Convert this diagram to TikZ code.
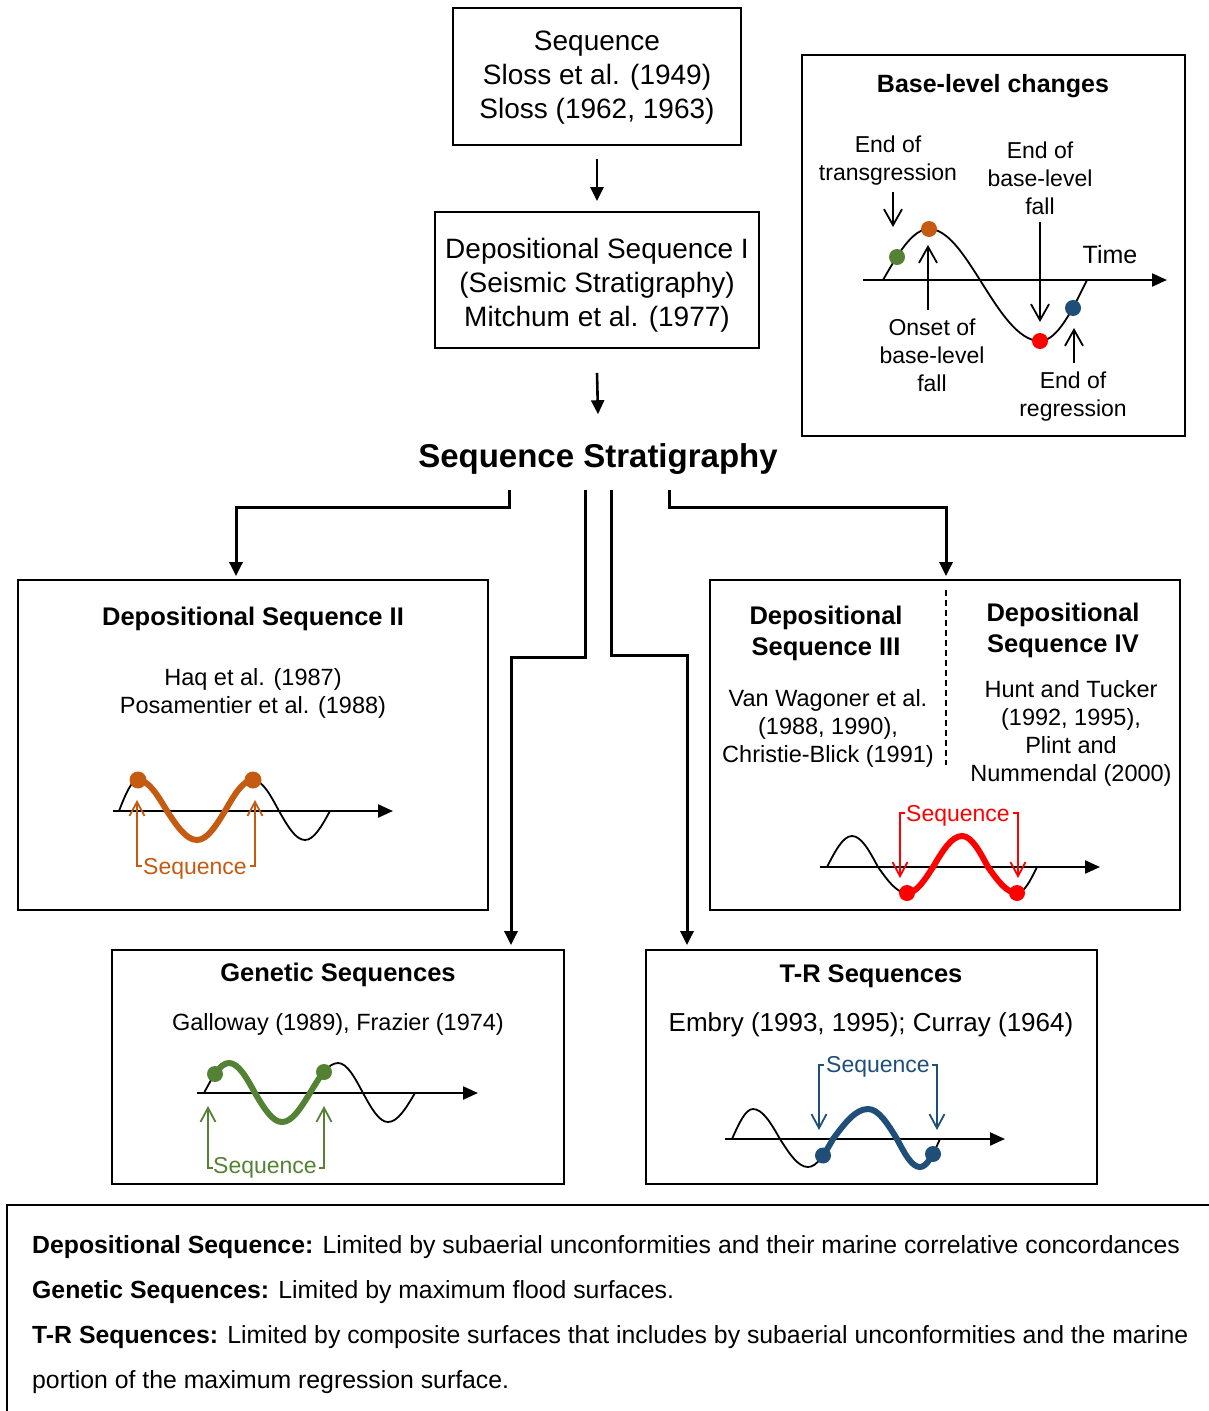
\documentclass[tikz,border=0pt]{standalone}
\usepackage{fontspec}
\setmainfont{Liberation Sans}
\usetikzlibrary{arrows.meta}
\definecolor{seqorange}{HTML}{C55A11}
\definecolor{seqgreen}{HTML}{548235}
\definecolor{seqred}{HTML}{FF0000}
\definecolor{seqblue}{HTML}{1F4E79}
\tikzset{
  box/.style={draw, line width=1.8pt, inner sep=0pt},
  txt/.style={inner sep=0pt, align=center, anchor=north},
  big/.style={txt, font=\fontsize{28}{34.3}\selectfont},
  head/.style={txt, font=\bfseries\fontsize{25.5}{31}\selectfont},
  cite/.style={txt, font=\fontsize{23.5}{28}\selectfont},
  lbl/.style={txt, font=\fontsize{23}{28}\selectfont},
  flow/.style={line width=2.6pt, -{Triangle[width=13pt,length=14pt]}},
  conn/.style={line width=3pt, -{Triangle[width=13pt,length=14pt]}},
  axisline/.style={line width=2.2pt, -{Triangle[width=13pt,length=15pt]}},
  wave/.style={line width=1.8pt},
  seqwave/.style={line width=6pt},
  seqarrow/.style={line width=1.8pt, -{Straight Barb[width=15pt,length=14pt]}},
  pointer/.style={line width=1.8pt, -{Straight Barb[width=18pt,length=16pt]}},
}
\begin{document}
\begin{tikzpicture}[x=1pt,y=-1pt]
\useasboundingbox (0,0) rectangle (1209,1411);

% ---------- upper chain ----------
\node[box, minimum width=288pt, minimum height=137pt] (src) at (597,76.5) {};
\node[big] (srctxt) at (597,30.6) {Sequence\\Sloss et al. (1949)\\Sloss (1962, 1963)};

\node[box, minimum width=324pt, minimum height=136pt] (ds1) at (597,280) {};
\node[big] (ds1txt) at (597,237.6) {Depositional Sequence I\\(Seismic Stratigraphy)\\Mitchum et al. (1977)};

\node[txt, font=\bfseries\fontsize{33}{38}\selectfont] (title) at (598,443.2) {Sequence Stratigraphy};

\draw[flow] ([yshift=-13pt]src.south) -- ([yshift=10pt]ds1.north);
\draw[flow] ([yshift=-24pt]ds1.south) -- ([yshift=29pt]title.north);

% ---------- base-level box ----------
\node[box, minimum width=383pt, minimum height=381pt] (bl) at (993.5,245.5) {};
\node[txt, font=\bfseries\fontsize{25}{30}\selectfont] (bltitle) at (993,73.8) {Base-level changes};
\draw[axisline] (863,280) -- (1167,280);
\draw[wave] (883,280) sin (929,229) cos (980,280) sin (1040,341) cos (1087,280);
\fill[seqgreen] (897,257) circle (8pt);
\fill[seqorange] (929,229) circle (8pt);
\fill[seqred] (1040,341) circle (8pt);
\fill[seqblue] (1073,308) circle (8pt);
\node[lbl] (lblA) at (888,135.5) {End of\\transgression};
\node[lbl] (lblB) at (1040,141.5) {End of\\base-level\\fall};
\node[lbl] (lblC) at (932,318.5) {Onset of\\base-level\\fall};
\node[lbl] (lblD) at (1073,371.5) {End of\\regression};
\node[txt, font=\fontsize{25}{30}\selectfont] (time) at (1110,244.8) {Time};
\draw[pointer] (893,192) -- (893,227);
\draw[pointer] (928,310) -- (928,245);
\draw[pointer] (1040,222) -- (1040,322);
\draw[pointer] (1074,363) -- (1074,328);

% ---------- branch boxes ----------
\node[box, minimum width=470pt, minimum height=330pt] (ds2) at (253,745) {};
\node[box, minimum width=470pt, minimum height=330pt] (ds34) at (945,745) {};
\node[box, minimum width=452pt, minimum height=234pt] (gen) at (338,1067) {};
\node[box, minimum width=451pt, minimum height=234pt] (tr) at (871.5,1067) {};

% connectors from the title
\coordinate (sL) at (509,490);
\coordinate (sIL) at (585,490);
\coordinate (sIR) at (611,490);
\coordinate (sR) at (669,490);
\draw[conn, shorten >=3pt] (sL) -- (509,507) -- (236,507) -- (236,0 |- ds2.north);
\draw[conn, shorten >=4pt] (sIL) -- (585,657) -- (511,657) -- (511,0 |- gen.north);
\draw[conn, shorten >=4pt] (sIR) -- (611,655) -- (687,655) -- (687,0 |- tr.north);
\draw[conn, shorten >=3pt] (sR) -- (669,507) -- (946,507) -- (946,0 |- ds34.north);

% ---------- Depositional Sequence II ----------
\node[head] (ds2title) at (253,606.6) {Depositional Sequence II};
\node[cite] (ds2cite) at (253,668.3) {Haq et al. (1987)\\Posamentier et al. (1988)};
\draw[axisline] (113,811) -- (393,811);
\draw[wave] (119,811) sin (138,780) cos (167,811) sin (197,840) cos (225,811)
  sin (253,780) cos (279,811) sin (305,840) cos (330,811);
\draw[seqwave, seqorange] (138,780) cos (167,811) sin (197,840) cos (225,811) sin (253,780);
\fill[seqorange] (138,780) circle (8.5pt) (253,780) circle (8.5pt);
\draw[seqarrow, seqorange] (142,866) -- (137,866) -- (137,800);
\draw[seqarrow, seqorange] (250,866) -- (255,866) -- (255,800);
\node[lbl, seqorange] (ds2seq) at (195,858.5) {Sequence};

% ---------- Depositional Sequence III / IV ----------
\draw[line width=1.5pt, dash pattern=on 6pt off 4pt] (946,590) -- (946,765);
\node[head] (ds3title) at (826,605.6) {Depositional\\Sequence III};
\node[cite] (ds3cite) at (828,689.3) {Van Wagoner et al.\\(1988, 1990),\\Christie-Blick (1991)};
\node[head] (ds4title) at (1063,602.6) {Depositional\\Sequence IV};
\node[cite] (ds4cite) at (1071,680.3) {Hunt and Tucker\\(1992, 1995),\\Plint and\\Nummendal (2000)};
\draw[axisline] (820,867) -- (1100,867);
\draw[wave] (827,867) sin (852,836) cos (878,867) sin (907,893) cos (933,867)
  sin (962,836) cos (988,867) sin (1017,893) cos (1037,867);
\draw[seqwave, seqred] (907,893) cos (933,867) sin (962,836) cos (988,867) sin (1017,893);
\fill[seqred] (907,893) circle (8pt) (1017,893) circle (8pt);
\draw[seqarrow, seqred] (905,813) -- (900,813) -- (900,878);
\draw[seqarrow, seqred] (1013,813) -- (1018,813) -- (1018,878);
\node[lbl, seqred] (ds3seq) at (958,805.5) {Sequence};

% ---------- Genetic Sequences ----------
\node[head] (gentitle) at (338,962.6) {Genetic Sequences};
\node[cite] (gencite) at (338,1013.3) {Galloway (1989), Frazier (1974)};
\draw[axisline] (197,1093) -- (478,1093);
\draw[wave] (204,1093) sin (229,1063) cos (255,1093) sin (282,1122) cos (310,1093)
  sin (338,1063) cos (363,1093) sin (388,1122) cos (415,1093);
\begin{scope}
  \clip (215,1000) rectangle (324,1200);
  \draw[seqwave, seqgreen] (204,1093) sin (229,1063) cos (255,1093) sin (282,1122) cos (310,1093)
    sin (338,1063);
\end{scope}
\fill[seqgreen] (215,1074) circle (8pt) (324,1072) circle (8pt);
\draw[seqarrow, seqgreen] (213,1168) -- (208,1168) -- (208,1106);
\draw[seqarrow, seqgreen] (319,1168) -- (324,1168) -- (324,1106);
\node[lbl, seqgreen] (genseq) at (265,1157.5) {Sequence};

% ---------- T-R Sequences ----------
\node[head] (trtitle) at (871,964.6) {T-R Sequences};
\node[txt, font=\fontsize{26}{30}\selectfont] (trcite) at (871,1012.4) {Embry (1993, 1995); Curray (1964)};
\draw[axisline] (725,1139) -- (1005,1139);
\draw[wave] (732,1139) sin (753,1109) cos (780,1139) sin (808,1167) cos (833,1139)
  sin (868,1109) cos (897,1139) sin (920,1167) cos (940,1139);
\begin{scope}
  \clip (823,1050) rectangle (933,1200);
  \draw[seqwave, seqblue] (808,1167) cos (833,1139) sin (868,1109) cos (897,1139)
    sin (920,1167) cos (940,1139);
\end{scope}
\fill[seqblue] (823,1155.5) circle (8pt) (933,1154) circle (8pt);
\draw[seqarrow, seqblue] (824,1065) -- (819,1065) -- (819,1130);
\draw[seqarrow, seqblue] (932,1065) -- (937,1065) -- (937,1130);
\node[lbl, seqblue] (trseq) at (878,1056.5) {Sequence};

% ---------- definitions ----------
\draw[line width=2pt] (7,1411) -- (7,1205) -- (1209,1205);
\node[inner sep=0pt, anchor=north west, align=left, font=\fontsize{24.8}{45}\selectfont] (defs) at (32,1235) {%
\textbf{Depositional Sequence:} Limited by subaerial unconformities and their marine correlative concordances\\
\textbf{Genetic Sequences:} Limited by maximum flood surfaces.\\
\textbf{T-R Sequences:} Limited by composite surfaces that includes by subaerial unconformities and the marine\\
portion of the maximum regression surface.};
\end{tikzpicture}
\end{document}
